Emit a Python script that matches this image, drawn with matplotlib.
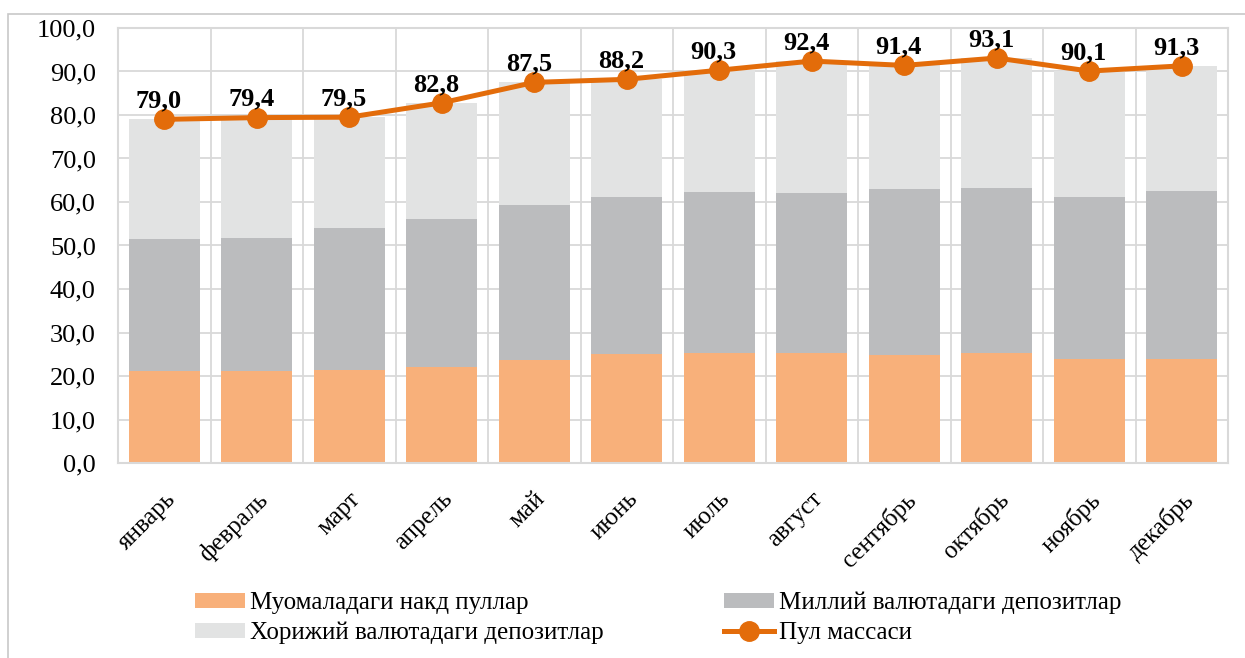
import matplotlib
matplotlib.use("Agg")
import matplotlib.pyplot as plt
from matplotlib.patches import Rectangle
import numpy as np

# Months and values
months = ["январь", "февраль", "март", "апрель", "май", "июнь",
          "июль", "август", "сентябрь", "октябрь", "ноябрь", "декабрь"]
cash = [21.1, 21.2, 21.4, 22.1, 23.7, 25.1, 25.3, 25.4, 24.8, 25.4, 23.8, 24.0]
national = [30.5, 30.5, 32.6, 34.1, 35.7, 36.0, 36.9, 36.7, 38.2, 37.9, 37.3, 38.6]
foreign = [27.4, 27.7, 25.5, 26.6, 28.1, 27.1, 28.1, 30.3, 28.4, 29.8, 29.0, 28.7]
money_supply = [79.0, 79.4, 79.5, 82.8, 87.5, 88.2, 90.3, 92.4, 91.4, 93.1, 90.1, 91.3]

labels = ["Муомаладаги накд пуллар", "Миллий валютадаги депозитлар",
          "Хорижий валютадаги депозитлар", "Пул массаси"]

plt.rcParams['font.family'] = ['Liberation Serif', 'DejaVu Serif']

fig = plt.figure(figsize=(12.45, 6.58), dpi=100)
ax = fig.add_axes([118 / 1245, 1 - 463 / 658, (1228 - 118) / 1245, (463 - 28) / 658])

# outer chart border (cut by the picture edges)
fig.add_artist(Rectangle((8 / 1245, -0.1), 1.2, 1 - 14 / 658 + 0.1, transform=fig.transFigure,
                         fill=False, edgecolor="#c8c8c8", linewidth=1.2))

x = np.arange(len(months))
w = 0.77
cash_arr = np.array(cash)
nat_arr = np.array(national)
b1 = ax.bar(x, cash, w, color="#F8B07A", zorder=2)
b2 = ax.bar(x, national, w, bottom=cash_arr, color="#BBBCBE", zorder=2)
b3 = ax.bar(x, foreign, w, bottom=cash_arr + nat_arr, color="#E2E3E3", zorder=2)
ln, = ax.plot(x, money_supply, color="#E36C0A", linewidth=3.6, marker="o",
              markersize=14, zorder=3)

for xi, v in zip(x, money_supply):
    ax.annotate(f"{v:.1f}".replace(".", ","), (xi, v), xytext=(-4, 5),
                textcoords="offset points", ha="center", va="bottom",
                fontsize=19, fontweight="bold", zorder=4)

ax.set_xlim(-0.5, len(months) - 0.5)
ax.set_ylim(0, 100)
ax.set_yticks(np.arange(0, 101, 10))
ax.set_yticklabels([f"{t:.1f}".replace(".", ",") for t in np.arange(0, 101, 10)], fontsize=19)
ax.tick_params(axis="y", length=0, pad=16)

# vertical grid on category boundaries
ax.set_xticks(x + 0.5, minor=True)
ax.set_xticks(x)
ax.set_xticklabels(months, rotation=45, ha="right", rotation_mode="anchor", fontsize=18)
ax.tick_params(axis="x", which="both", length=0, pad=18)
ax.grid(axis="y", color="#d9d9d9", linewidth=1.3, zorder=0)
ax.grid(axis="x", which="minor", color="#d9d9d9", linewidth=1.3, zorder=0)
for s in ax.spines.values():
    s.set_color("#d9d9d9")
    s.set_linewidth(1.5)

fig.legend([b1, b3, b2, ln], [labels[0], labels[2], labels[1], labels[3]],
           ncol=2, loc="upper left", bbox_to_anchor=(195 / 1245, 1 - 592 / 658), frameon=False,
           fontsize=18, columnspacing=4.8, handlelength=2.0, handleheight=0.55,
           labelspacing=0.3, handletextpad=0.2, borderpad=0, borderaxespad=0)

fig.savefig("out.png", dpi=100)
